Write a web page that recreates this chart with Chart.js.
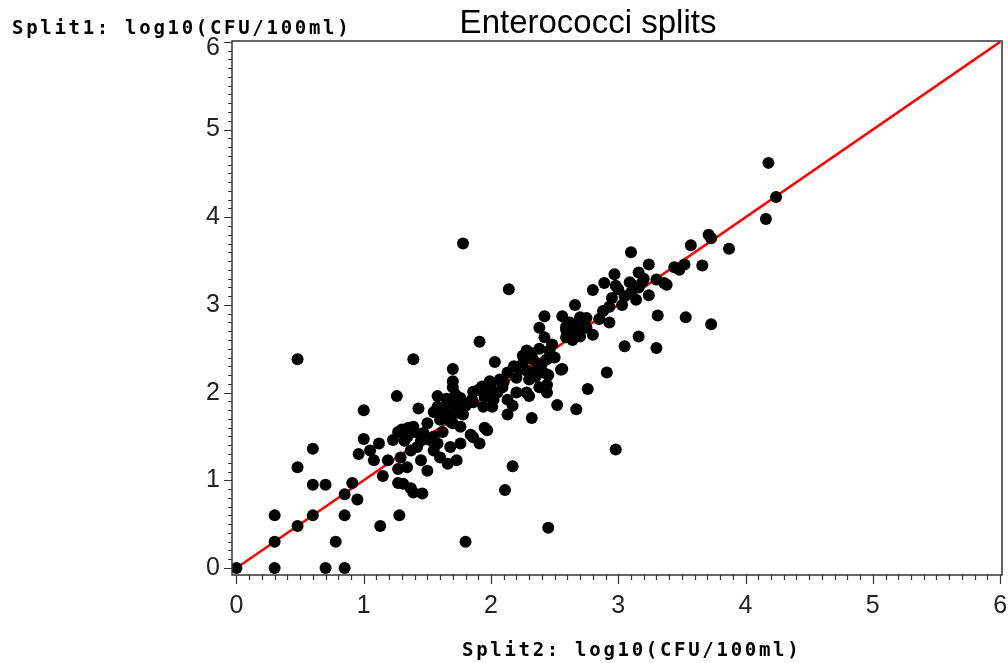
<!DOCTYPE html>
<html>
<head>
<meta charset="utf-8">
<script src="https://cdn.jsdelivr.net/npm/chart.js@4/dist/chart.umd.min.js"></script>
<style>
  body { margin: 0; background: #fff; }
  .box { width: 1008px; height: 663px; position: relative; }
</style>
</head>
<body>
<div class="box"><canvas id="splitChart"></canvas></div>
<script>
// Split2 (x) vs Split1 (y), log10(CFU/100ml)
var split2 = [
  0, 0.30, 0.70, 0.85, 0.30, 0.30, 0.48, 0.78, 0.85, 0.60,
  0.48, 0.48, 0.60, 0.60, 0.70, 0.85, 0.91, 0.95, 1.00, 0.96,
  1.13, 1.28, 1.00, 1.39, 1.80, 1.78, 2.11, 2.17, 2.45, 2.98,
  2.14, 4.18, 4.24, 4.16, 3.73, 3.31, 3.53, 3.87, 3.71, 3.73,
  3.57, 3.66, 3.52, 3.44, 3.48, 3.36, 3.10, 3.24, 3.16, 2.97,
  3.09, 3.19, 3.30, 3.38, 2.89, 2.80, 3.16, 3.24, 3.10, 3.14,
  2.95, 3.03, 2.66, 2.93, 2.56, 2.70, 2.88, 2.85, 2.59, 2.75,
  2.93, 2.80, 2.64, 3.16, 3.05, 3.30, 2.56, 2.91, 2.76, 2.42,
  2.38, 2.59, 2.67, 2.42, 2.59, 2.70, 1.91, 2.28, 2.38, 2.46,
  2.33, 2.44, 2.03, 2.25, 2.23, 2.36, 2.55, 2.13, 2.20, 2.30,
  2.41, 1.70, 1.70, 1.70, 1.99, 2.07, 1.93, 1.86, 1.97, 2.09,
  2.02, 2.13, 1.85, 1.76, 1.94, 2.13, 2.01, 2.28, 2.38, 2.44,
  2.44, 2.30, 2.52, 2.67, 2.32, 1.66, 1.70, 1.66, 1.70, 1.95,
  1.84, 1.76, 1.91, 1.26, 1.43, 1.58, 1.58, 1.73, 1.86, 1.97,
  1.74, 1.68, 1.60, 1.50, 1.39, 1.27, 1.23, 1.34, 1.47, 1.42,
  1.52, 1.37, 1.29, 1.34, 1.45, 1.50, 1.55, 1.60, 1.66, 1.73,
  1.86, 1.97, 1.76, 1.12, 1.05, 1.08, 1.19, 1.15, 1.27, 1.31,
  1.37, 1.39, 1.46, 1.27, 1.68,
  1.30, 1.35, 1.40, 1.32, 1.45, 1.62, 1.65, 1.55, 1.72, 1.80,
  1.78, 1.90, 2.00, 2.05, 1.95, 2.10, 2.18, 2.25, 2.32, 2.40,
  2.35, 2.28, 2.45, 2.48, 2.50, 2.62, 2.68, 2.75, 2.62, 3.00,
  3.05, 3.12, 3.20, 2.98, 1.55, 1.62, 1.58, 2.17, 2.20
];
var split1 = [
  0, 0, 0, 0, 0.30, 0.60, 0.48, 0.30, 0.60, 0.60,
  1.15, 2.38, 1.36, 0.95, 0.95, 0.84, 0.97, 0.78, 1.80, 1.30,
  0.48, 0.60, 1.47, 2.38, 0.30, 3.70, 0.89, 1.16, 0.46, 1.35,
  3.18, 4.62, 4.23, 3.98, 2.78, 2.88, 2.86, 3.64, 3.80, 3.76,
  3.68, 3.45, 3.46, 3.43, 3.40, 3.25, 3.60, 3.46, 3.37, 3.35,
  3.26, 3.26, 3.29, 3.23, 3.25, 3.17, 3.20, 3.11, 3.14, 3.06,
  3.08, 3.00, 3.00, 2.98, 2.87, 2.86, 2.93, 2.84, 2.72, 2.74,
  2.80, 2.66, 2.60, 2.64, 2.53, 2.51, 2.27, 2.23, 2.04, 2.87,
  2.74, 2.75, 2.72, 2.63, 2.63, 2.64, 2.58, 2.48, 2.50, 2.48,
  2.38, 2.38, 2.35, 2.33, 2.27, 2.27, 2.26, 2.23, 2.17, 2.15,
  2.23, 2.27, 2.13, 2.06, 2.13, 2.15, 2.07, 2.01, 2.00, 2.06,
  1.92, 1.92, 1.92, 1.94, 1.84, 1.75, 1.84, 2.00, 2.06, 2.09,
  2.00, 1.96, 1.86, 1.81, 1.71, 1.89, 1.78, 1.71, 1.65, 1.60,
  1.52, 1.42, 1.42, 1.96, 1.82, 1.96, 1.84, 1.89, 1.89, 2.04,
  1.77, 1.67, 1.69, 1.65, 1.61, 1.55, 1.46, 1.49, 1.54, 1.38,
  1.46, 1.34, 1.26, 1.15, 1.23, 1.11, 1.34, 1.26, 1.19, 1.23,
  1.49, 1.57, 1.61, 1.42, 1.34, 1.23, 1.23, 1.05, 0.97, 0.96,
  0.91, 0.86, 0.85, 1.13, 1.38,
  1.58, 1.60, 1.55, 1.45, 1.45, 1.80, 1.93, 1.78, 1.98, 1.85,
  1.75, 2.03, 2.10, 2.00, 1.95, 2.12, 2.30, 2.42, 2.45, 2.33,
  2.18, 2.25, 2.20, 2.55, 2.40, 2.68, 2.80, 2.85, 2.80, 3.18,
  3.10, 3.22, 3.30, 3.22, 1.50, 1.55, 1.42, 1.85, 2.00
];

// reference line y = x
var lineX = [0, 6];
var lineY = [0, 6];

var tickLabels = [0, 1, 2, 3, 4, 5, 6];
var titleText = "Enterococci splits";
var yTitle = "Split1: log10(CFU/100ml)";
var xTitle = "Split2: log10(CFU/100ml)";

var points = split2.map((x, i) => ({ x: x, y: split1[i] }));
var linePts = lineX.map((x, i) => ({ x: x, y: lineY[i] }));

// frame, ticks and texts drawn with the chart's own scales
var framePlugin = {
  id: "frame",
  afterDraw(chart) {
    var ctx = chart.ctx;
    var a = chart.chartArea;
    var sx = chart.scales.x, sy = chart.scales.y;
    ctx.save();
    ctx.strokeStyle = "#333";
    ctx.lineWidth = 1.5;
    ctx.strokeRect(a.left, a.top, a.right - a.left, a.bottom - a.top);

    ctx.lineWidth = 1.2;
    ctx.beginPath();
    for (var k = 0; k <= 60; k++) {
      var v = k / 10;
      var major = k % 10 === 0;
      var px = Math.round(sx.getPixelForValue(v)) + 0.5;
      ctx.moveTo(px, a.bottom);
      ctx.lineTo(px, a.bottom + (major ? 9 : 5));
      var py = Math.round(sy.getPixelForValue(v)) + 0.5;
      ctx.moveTo(a.left, py);
      ctx.lineTo(a.left - (major ? 8 : 4), py);
    }
    ctx.stroke();

    ctx.fillStyle = "#222";
    ctx.font = "25px 'Liberation Sans', Arial, sans-serif";
    ctx.textAlign = "center";
    ctx.textBaseline = "middle";
    tickLabels.forEach(t => {
      ctx.fillText(String(t), sx.getPixelForValue(t), 606);
    });
    ctx.textAlign = "right";
    tickLabels.forEach(t => {
      ctx.fillText(String(t), 220, sy.getPixelForValue(t) + (t === 6 ? 6 : 0));
    });

    ctx.fillStyle = "#000";
    ctx.font = "33px 'Liberation Sans', Arial, sans-serif";
    ctx.textAlign = "center";
    ctx.fillText(titleText, 588, 24);

    ctx.font = "bold 19px 'DejaVu Sans Mono', monospace";
    ctx.letterSpacing = "2.7px";
    ctx.textAlign = "left";
    ctx.fillText(yTitle, 12, 29);
    ctx.fillText(xTitle, 462, 651);
    ctx.restore();
  }
};

new Chart(document.getElementById("splitChart"), {
  type: "scatter",
  data: {
    datasets: [
      {
        label: "Splits",
        data: points,
        backgroundColor: "#000",
        borderWidth: 0,
        pointRadius: 6,
        pointHoverRadius: 6,
        order: 1
      },
      {
        type: "line",
        label: "y = x",
        data: linePts,
        borderColor: "#ff0000",
        borderWidth: 2.5,
        pointRadius: 0,
        fill: false,
        order: 2
      }
    ]
  },
  options: {
    responsive: true,
    maintainAspectRatio: false,
    animation: false,
    layout: { padding: { left: 232, right: 3, top: 41, bottom: 88 } },
    plugins: {
      legend: { display: false },
      tooltip: { enabled: false }
    },
    scales: {
      x: { type: "linear", display: false, min: -0.035, max: 6.015 },
      y: { type: "linear", display: false, min: -0.08, max: 6.01 }
    }
  },
  plugins: [framePlugin]
});
</script>
</body>
</html>
